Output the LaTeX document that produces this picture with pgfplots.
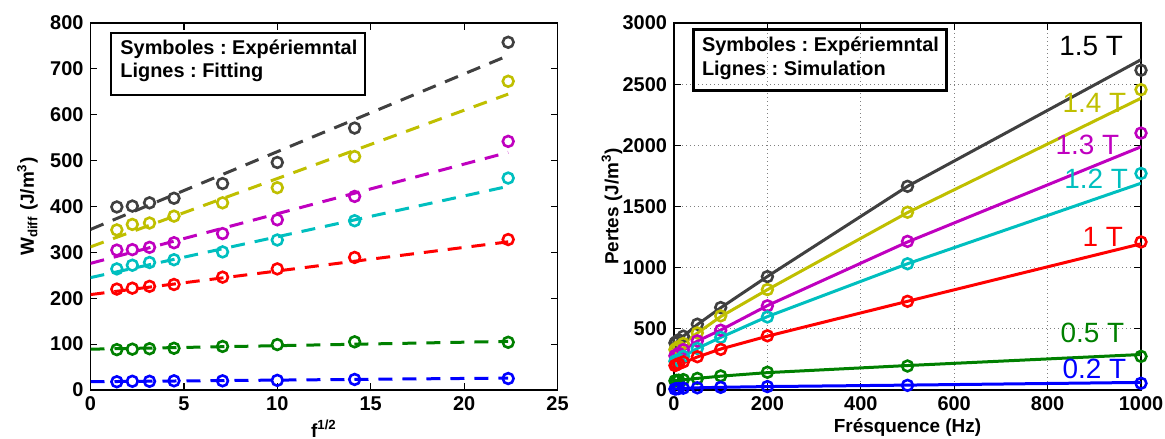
\documentclass[border=0pt]{standalone}
\usepackage{pgfplots}
\pgfplotsset{compat=1.18}
\usepackage{fontspec}
\setmainfont{Liberation Sans}
\frenchspacing
\definecolor{cK}{rgb}{0.25,0.25,0.25}
\definecolor{cY}{rgb}{0.75,0.75,0}
\definecolor{cM}{rgb}{0.75,0,0.75}
\definecolor{cC}{rgb}{0,0.75,0.75}
\definecolor{cR}{rgb}{1,0,0}
\definecolor{cG}{rgb}{0,0.5,0}
\definecolor{cB}{rgb}{0,0,1}
\pgfplotsset{
  common/.style={scale only axis, width=233.5bp, height=183.5bp, anchor=south west,
    axis line style={line width=0.8bp}, tick style={black, line width=0.6bp},
    major tick length=3.5bp, tick align=inside,
    ticklabel style={font=\fontsize{10}{11}\selectfont\bfseries},
    /pgf/number format/assume math mode=true, /pgf/number format/1000 sep={},
    label style={font=\fontsize{9.5}{11}\selectfont\bfseries}},
  mk/.style={only marks, mark=o, mark size=2.7bp, mark options={line width=1.3bp, solid}},
  fit/.style={no marks, line width=1.5bp, dash pattern=on 7bp off 5bp},
  sim/.style={no marks, line width=1.5bp},
}
\begin{document}
\begin{tikzpicture}
\useasboundingbox (0,0) rectangle (582.5bp,219.5bp);
% ---------------- left
\begin{axis}[common, at={(45.25bp,24.5bp)},
  xmin=0, xmax=25, ymin=0, ymax=800,
  xtick={0,5,...,25}, ytick={0,100,...,800},
  xlabel={f\textsuperscript{1/2}},
  xlabel style={at={(axis description cs:0.5,-0.105)}, anchor=center},
  ylabel={W\textsubscript{diff} (J/m\textsuperscript{3})},
  ylabel style={at={(axis description cs:-0.135,0.5)}, anchor=center}]
\addplot[fit, cK] coordinates {(0,350) (22.36,729)};
\addplot[fit, cY] coordinates {(0,312) (22.36,645)};
\addplot[fit, cM] coordinates {(0,276) (22.36,518)};
\addplot[fit, cC] coordinates {(0,245) (22.36,444)};
\addplot[fit, cR] coordinates {(0,208) (22.36,323)};
\addplot[fit, cG] coordinates {(0,89) (22.36,106)};
\addplot[fit, cB] coordinates {(0,18) (22.36,26)};
\addplot[mk, cK] coordinates {(1.41,399) (2.24,401) (3.16,408) (4.47,418) (7.07,450) (10,496) (14.14,571) (22.36,758)};
\addplot[mk, cY] coordinates {(1.41,349) (2.24,361) (3.16,364) (4.47,379) (7.07,408) (10,441) (14.14,509) (22.36,673)};
\addplot[mk, cM] coordinates {(1.41,305) (2.24,306) (3.16,311) (4.47,321) (7.07,341) (10,371) (14.14,422) (22.36,542)};
\addplot[mk, cC] coordinates {(1.41,264) (2.24,272) (3.16,278) (4.47,284) (7.07,301) (10,327) (14.14,369) (22.36,462)};
\addplot[mk, cR] coordinates {(1.41,220) (2.24,222) (3.16,226) (4.47,230) (7.07,246) (10,264) (14.14,289) (22.36,328)};
\addplot[mk, cG] coordinates {(1.41,88) (2.24,89) (3.16,90) (4.47,91) (7.07,95) (10,99) (14.14,105) (22.36,104)};
\addplot[mk, cB] coordinates {(1.41,18) (2.24,19) (3.16,19) (4.47,20) (7.07,20) (10,21) (14.14,23) (22.36,25)};
\end{axis}
\draw[line width=1.3bp] (55.5bp,172bp) rectangle (182.5bp,203bp);
\node[anchor=base west, inner sep=0pt, font=\fontsize{10}{11}\selectfont\bfseries] at (60bp,192bp) {Symboles : Expériemntal};
\node[anchor=base west, inner sep=0pt, font=\fontsize{10}{11}\selectfont\bfseries] at (60bp,180.5bp) {Lignes : Fitting};
% ---------------- right
\begin{axis}[common, at={(337bp,24.5bp)},
  xmin=0, xmax=1000, ymin=0, ymax=3000,
  xtick={0,200,...,1000}, ytick={0,500,...,3000},
  grid=major, major grid style={gray, line width=0.5bp, dash pattern=on 0.6bp off 1.4bp},
  xlabel={Frésquence (Hz)},
  xlabel style={at={(axis description cs:0.5,-0.103)}, anchor=center},
  ylabel={Pertes (J/m\textsuperscript{3})},
  ylabel style={at={(axis description cs:-0.133,0.5)}, anchor=center}]
\addplot[sim, cK] coordinates {(0,375) (50,535) (100,672) (200,928) (500,1665) (1000,2700)};
\addplot[sim, cY] coordinates {(0,325) (50,465) (100,600) (200,820) (500,1450) (1000,2385)};
\addplot[sim, cM] coordinates {(0,275) (50,400) (100,490) (200,690) (500,1210) (1000,1988)};
\addplot[sim, cC] coordinates {(0,230) (50,340) (100,430) (200,600) (500,1032) (1000,1690)};
\addplot[sim, cR] coordinates {(0,190) (50,270) (100,335) (200,440) (500,725) (1000,1195)};
\addplot[sim, cG] coordinates {(0,75) (50,95) (100,113) (200,142) (500,200) (1000,290)};
\addplot[sim, cB] coordinates {(0,8) (50,18) (100,22) (200,28) (500,40) (1000,62)};
\addplot[mk, cK] coordinates {(2,385) (5,395) (10,410) (20,440) (50,538) (100,674) (200,927) (500,1665) (1000,2614)};
\addplot[mk, cY] coordinates {(2,330) (5,340) (10,355) (20,380) (50,467) (100,606) (200,821) (500,1453) (1000,2455)};
\addplot[mk, cM] coordinates {(2,280) (5,285) (10,300) (20,330) (50,402) (100,489) (200,688) (500,1215) (1000,2100)};
\addplot[mk, cC] coordinates {(2,235) (5,240) (10,250) (20,275) (50,340) (100,430) (200,597) (500,1032) (1000,1770)};
\addplot[mk, cR] coordinates {(2,200) (5,205) (10,215) (20,230) (50,272) (100,332) (200,443) (500,725) (1000,1210)};
\addplot[mk, cG] coordinates {(2,75) (5,78) (10,80) (20,85) (50,95) (100,115) (200,145) (500,196) (1000,275)};
\addplot[mk, cB] coordinates {(2,8) (5,10) (10,12) (20,15) (50,18) (100,22) (200,28) (500,38) (1000,55)};
\begin{scope}[every node/.style={anchor=east, inner sep=0pt, font=\fontsize{14}{14}\selectfont}]
\node[text=black] at (axis cs:962,2812) {1.5 T};
\node[text=cY] at (axis cs:969,2350) {1.4 T};
\node[text=cM] at (axis cs:954,2005) {1.3 T};
\node[text=cC] at (axis cs:973,1728) {1.2 T};
\node[text=cR] at (axis cs:962,1250) {1 T};
\node[text=cG] at (axis cs:965,465) {0.5 T};
\node[text=cB] at (axis cs:969,170) {0.2 T};
\end{scope}
\end{axis}
\draw[line width=1.3bp] (346.7bp,174.2bp) rectangle (473.3bp,204.8bp);
\node[anchor=base west, inner sep=0pt, font=\fontsize{10}{11}\selectfont\bfseries] at (350.8bp,193.5bp) {Symboles : Expériemntal};
\node[anchor=base west, inner sep=0pt, font=\fontsize{10}{11}\selectfont\bfseries] at (350.8bp,181.8bp) {Lignes : Simulation};
\end{tikzpicture}
\end{document}
